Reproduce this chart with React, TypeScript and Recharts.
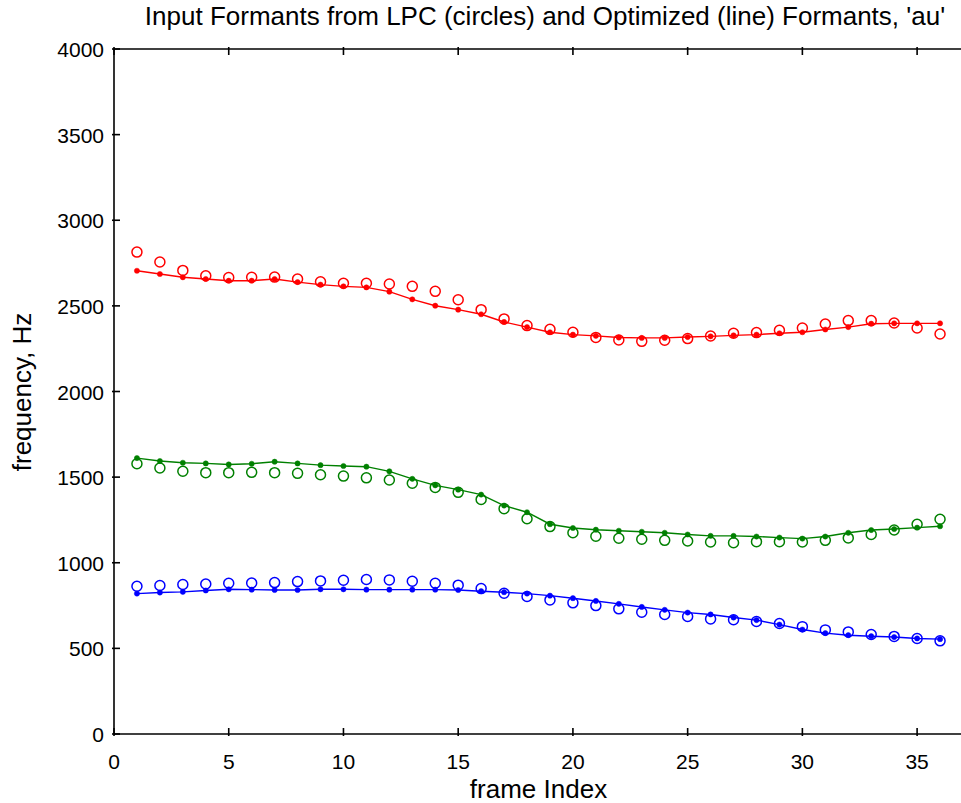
import { ComposedChart, Line, XAxis, YAxis } from "recharts";

// frame numbers 1..36
const frames = [
  1, 2, 3, 4, 5, 6, 7, 8, 9, 10, 11, 12, 13, 14, 15, 16, 17, 18,
  19, 20, 21, 22, 23, 24, 25, 26, 27, 28, 29, 30, 31, 32, 33, 34, 35, 36,
];

// LPC formants (circles)
const f1Lpc = [863, 867, 873, 876, 880, 882, 884, 890, 894, 898, 902, 900, 892, 880, 869, 849, 822, 803, 783, 766, 750, 731, 711, 698, 686, 672, 667, 657, 645, 627, 608, 596, 581, 570, 558, 544];
const f2Lpc = [1578, 1553, 1534, 1526, 1526, 1528, 1526, 1522, 1514, 1506, 1496, 1483, 1464, 1440, 1411, 1370, 1316, 1257, 1211, 1175, 1155, 1143, 1137, 1131, 1127, 1121, 1117, 1123, 1123, 1121, 1131, 1145, 1165, 1191, 1225, 1254];
const f3Lpc = [2814, 2756, 2707, 2676, 2665, 2667, 2668, 2657, 2641, 2632, 2632, 2628, 2614, 2585, 2536, 2478, 2424, 2385, 2363, 2346, 2316, 2301, 2293, 2299, 2309, 2324, 2340, 2344, 2357, 2371, 2394, 2414, 2414, 2400, 2371, 2336];

// optimized formants (line)
const f1Opt = [820, 826, 830, 838, 845, 843, 841, 841, 845, 845, 843, 843, 843, 843, 841, 834, 828, 820, 808, 793, 777, 760, 742, 725, 709, 698, 680, 665, 639, 610, 589, 577, 571, 566, 558, 554];
const f2Opt = [1611, 1594, 1584, 1580, 1574, 1578, 1590, 1580, 1570, 1565, 1561, 1534, 1490, 1452, 1427, 1398, 1334, 1295, 1225, 1203, 1193, 1187, 1181, 1175, 1165, 1157, 1157, 1153, 1147, 1141, 1153, 1175, 1191, 1197, 1205, 1213];
const f3Opt = [2705, 2686, 2667, 2657, 2647, 2647, 2657, 2639, 2624, 2614, 2608, 2583, 2538, 2501, 2478, 2451, 2406, 2376, 2346, 2332, 2325, 2315, 2313, 2313, 2318, 2322, 2328, 2332, 2340, 2346, 2362, 2376, 2396, 2398, 2398, 2398];

const xTicks = [0, 5, 10, 15, 20, 25, 30, 35];
const yTicks = [0, 500, 1000, 1500, 2000, 2500, 3000, 3500, 4000];

const data = frames.map((f, i) => ({
  frame: f,
  f1Lpc: f1Lpc[i],
  f2Lpc: f2Lpc[i],
  f3Lpc: f3Lpc[i],
  f1Opt: f1Opt[i],
  f2Opt: f2Opt[i],
  f3Opt: f3Opt[i],
}));

const FONT = "'Liberation Sans', Arial, Helvetica, sans-serif";
const TICK = 8;
const AX = { stroke: "#000", strokeWidth: 1.6 };

// ticks point inward, like matlab
const BottomTick = ({ x, y, payload }: any) => (
  <g>
    <line x1={x} y1={y} x2={x} y2={y - TICK} {...AX} />
    <text x={x} y={y + 33} textAnchor="middle" fontSize={21} fontFamily={FONT} fill="#000">
      {payload.value}
    </text>
  </g>
);
const TopTick = ({ x, y }: any) => <line x1={x} y1={y} x2={x} y2={y + TICK} {...AX} />;
const LeftTick = ({ x, y, payload }: any) => (
  <g>
    <line x1={x} y1={y} x2={x + TICK} y2={y} {...AX} />
    <text x={x - 8} y={y + 8} textAnchor="end" fontSize={21} fontFamily={FONT} fill="#000">
      {payload.value}
    </text>
  </g>
);
const RightTick = ({ x, y }: any) => <line x1={x} y1={y} x2={x - TICK} y2={y} {...AX} />;

const circles = [
  { key: "f1Lpc", color: "#0000ff" },
  { key: "f2Lpc", color: "#008000" },
  { key: "f3Lpc", color: "#ff0000" },
];
const lines = [
  { key: "f1Opt", color: "#0000ff" },
  { key: "f2Opt", color: "#008000" },
  { key: "f3Opt", color: "#ff0000" },
];

export default function App() {
  return (
    <div style={{ position: "absolute", left: 0, top: 0, width: 961, height: 803, overflow: "hidden", background: "#fff" }}>
      <ComposedChart width={980} height={803} data={data} margin={{ top: 48, right: 16, bottom: 68, left: 113 }}>
        <XAxis
          dataKey="frame"
          type="number"
          domain={[0, 37]}
          ticks={xTicks}
          interval={0}
          height={1}
          tickSize={0}
          tickLine={false}
          tick={<BottomTick />}
          axisLine={AX}
        />
        <XAxis
          xAxisId="top"
          orientation="top"
          dataKey="frame"
          type="number"
          domain={[0, 37]}
          ticks={xTicks}
          interval={0}
          height={1}
          tickSize={0}
          tickLine={false}
          tick={<TopTick />}
          axisLine={AX}
        />
        <YAxis
          type="number"
          domain={[0, 4000]}
          ticks={yTicks}
          interval={0}
          width={1}
          tickSize={0}
          tickLine={false}
          tick={<LeftTick />}
          axisLine={AX}
        />
        <YAxis
          yAxisId="right"
          orientation="right"
          type="number"
          domain={[0, 4000]}
          ticks={yTicks}
          interval={0}
          width={1}
          tickSize={0}
          tickLine={false}
          tick={<RightTick />}
          axisLine={AX}
        />
        {circles.map((c) => (
          <Line
            key={c.key}
            dataKey={c.key}
            stroke="none"
            dot={{ r: 5, fill: "none", stroke: c.color, strokeWidth: 1.5 }}
            activeDot={false}
            isAnimationActive={false}
          />
        ))}
        {lines.map((c) => (
          <Line
            key={c.key}
            dataKey={c.key}
            type="linear"
            stroke={c.color}
            strokeWidth={1.4}
            dot={{ r: 2.6, fill: c.color, stroke: c.color, strokeWidth: 0.5 }}
            activeDot={false}
            isAnimationActive={false}
          />
        ))}
      </ComposedChart>
      <div style={{ position: "absolute", left: 0, width: 1090, top: 1, textAlign: "center", fontFamily: FONT, fontSize: 26, whiteSpace: "nowrap" }}>
        Input Formants from LPC (circles) and Optimized (line) Formants, 'au'
      </div>
      <div style={{ position: "absolute", left: 0, width: 1077, top: 774, textAlign: "center", fontFamily: FONT, fontSize: 26, whiteSpace: "nowrap" }}>
        frame Index
      </div>
      <div
        style={{
          position: "absolute",
          left: 22,
          top: 392,
          transform: "translate(-50%, -50%) rotate(-90deg)",
          fontFamily: FONT,
          fontSize: 26,
          whiteSpace: "nowrap",
        }}
      >
        frequency, Hz
      </div>
    </div>
  );
}
